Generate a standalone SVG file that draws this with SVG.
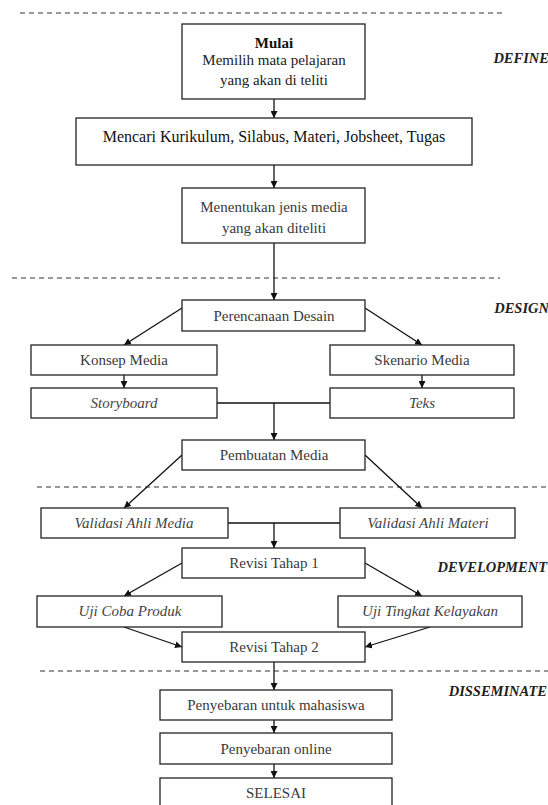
<svg xmlns="http://www.w3.org/2000/svg" width="548" height="805" viewBox="0 0 548 805">
<style>
.bx{fill:#fff;stroke:#222;stroke-width:1.3}
.t{font-family:"Liberation Serif",serif;font-size:15px;fill:#3a3a3a;text-anchor:middle}
.ti{font-family:"Liberation Serif",serif;font-size:15px;fill:#444;text-anchor:middle;font-style:italic}
.lb{font-family:"Liberation Serif",serif;font-size:14.5px;font-weight:bold;font-style:italic;fill:#222;text-anchor:end}
.dash{stroke:#333;stroke-width:1;stroke-dasharray:5,4;fill:none}
.c{stroke:#111;stroke-width:1.3;fill:none}
.ca{stroke:#111;stroke-width:1.3;fill:none;marker-end:url(#ah)}
</style>
<defs>
<marker id="ah" viewBox="0 0 10 10" refX="10" refY="5" markerWidth="7" markerHeight="7" markerUnits="userSpaceOnUse" orient="auto">
<path d="M0,0 L10,5 L0,10 z" fill="#111"/>
</marker>
</defs>
<rect width="548" height="805" fill="#fff"/>
<g id="phases">
<line class="dash" x1="20" y1="13" x2="502" y2="13"/>
<line class="dash" x1="12" y1="278" x2="500" y2="278"/>
<line class="dash" x1="37" y1="487" x2="548" y2="487"/>
<line class="dash" x1="40" y1="671" x2="548" y2="671"/>
<text class="lb" x="549" y="63">DEFINE</text>
<text class="lb" x="549" y="313">DESIGN</text>
<text class="lb" x="547" y="572">DEVELOPMENT</text>
<text class="lb" x="547" y="696">DISSEMINATE</text>
</g>
<g id="connectors">
<line class="ca" x1="274" y1="99" x2="274" y2="118"/>
<line class="ca" x1="274" y1="165" x2="274" y2="188"/>
<line class="ca" x1="274" y1="243" x2="274" y2="300"/>
<line class="ca" x1="182" y1="308" x2="124" y2="345"/>
<line class="ca" x1="365" y1="308" x2="422" y2="345"/>
<line class="ca" x1="124" y1="375" x2="124" y2="388"/>
<line class="ca" x1="422" y1="375" x2="422" y2="388"/>
<line class="c" x1="217" y1="403" x2="330" y2="403"/>
<line class="ca" x1="274" y1="403" x2="274" y2="440"/>
<line class="ca" x1="182" y1="455" x2="124" y2="508"/>
<line class="ca" x1="365" y1="455" x2="422" y2="508"/>
<line class="c" x1="228" y1="523" x2="340" y2="523"/>
<line class="ca" x1="274" y1="523" x2="274" y2="548"/>
<line class="ca" x1="182" y1="563" x2="124" y2="596"/>
<line class="ca" x1="365" y1="563" x2="422" y2="596"/>
<line class="ca" x1="124" y1="627" x2="182" y2="647"/>
<line class="ca" x1="430" y1="627" x2="365" y2="647"/>
<line class="ca" x1="274" y1="662" x2="274" y2="690"/>
<line class="ca" x1="274" y1="720" x2="274" y2="733"/>
<line class="ca" x1="274" y1="764" x2="274" y2="778"/>
</g>
<g id="mulai">
<rect class="bx" x="182" y="24" width="183" height="75"/>
<text class="t" x="274" y="48" style="font-weight:bold;fill:#111">Mulai</text>
<text class="t" x="274" y="65" style="fill:#222">Memilih mata pelajaran</text>
<text class="t" x="274" y="85" style="fill:#222">yang akan di teliti</text>
</g>
<g id="kurikulum">
<rect class="bx" x="76" y="118" width="396" height="47"/>
<text class="t" x="274" y="142" style="font-size:16px;fill:#111">Mencari Kurikulum, Silabus, Materi, Jobsheet, Tugas</text>
</g>
<g id="jenis-media">
<rect class="bx" x="182" y="188" width="183" height="55"/>
<text class="t" x="274" y="212">Menentukan jenis media</text>
<text class="t" x="274" y="233">yang akan diteliti</text>
</g>
<g id="perencanaan">
<rect class="bx" x="182" y="300" width="183" height="31"/>
<text class="t" x="274" y="321">Perencanaan Desain</text>
</g>
<g id="konsep">
<rect class="bx" x="31" y="345" width="186" height="30"/>
<text class="t" x="124" y="365">Konsep Media</text>
</g>
<g id="skenario">
<rect class="bx" x="330" y="345" width="184" height="30"/>
<text class="t" x="422" y="365">Skenario Media</text>
</g>
<g id="storyboard">
<rect class="bx" x="31" y="388" width="186" height="30"/>
<text class="ti" x="124" y="408">Storyboard</text>
</g>
<g id="teks">
<rect class="bx" x="330" y="388" width="184" height="30"/>
<text class="ti" x="422" y="408">Teks</text>
</g>
<g id="pembuatan">
<rect class="bx" x="182" y="440" width="183" height="30"/>
<text class="t" x="274" y="460">Pembuatan Media</text>
</g>
<g id="validasi-media">
<rect class="bx" x="41" y="508" width="187" height="30"/>
<text class="ti" x="134" y="528">Validasi Ahli Media</text>
</g>
<g id="validasi-materi">
<rect class="bx" x="340" y="508" width="175" height="30"/>
<text class="ti" x="428" y="528">Validasi Ahli Materi</text>
</g>
<g id="revisi1">
<rect class="bx" x="182" y="548" width="183" height="30"/>
<text class="t" x="274" y="568">Revisi Tahap 1</text>
</g>
<g id="uji-coba">
<rect class="bx" x="37" y="596" width="185" height="31"/>
<text class="ti" x="130" y="616">Uji Coba Produk</text>
</g>
<g id="uji-kelayakan">
<rect class="bx" x="338" y="596" width="184" height="31"/>
<text class="ti" x="430" y="616">Uji Tingkat Kelayakan</text>
</g>
<g id="revisi2">
<rect class="bx" x="182" y="632" width="183" height="30"/>
<text class="t" x="274" y="652">Revisi Tahap 2</text>
</g>
<g id="penyebaran-mhs">
<rect class="bx" x="160" y="690" width="232" height="30"/>
<text class="t" x="276" y="710">Penyebaran untuk mahasiswa</text>
</g>
<g id="penyebaran-online">
<rect class="bx" x="160" y="733" width="232" height="31"/>
<text class="t" x="276" y="754">Penyebaran online</text>
</g>
<g id="selesai">
<rect class="bx" x="160" y="778" width="232" height="32"/>
<text class="t" x="276" y="798">SELESAI</text>
</g>
</svg>
